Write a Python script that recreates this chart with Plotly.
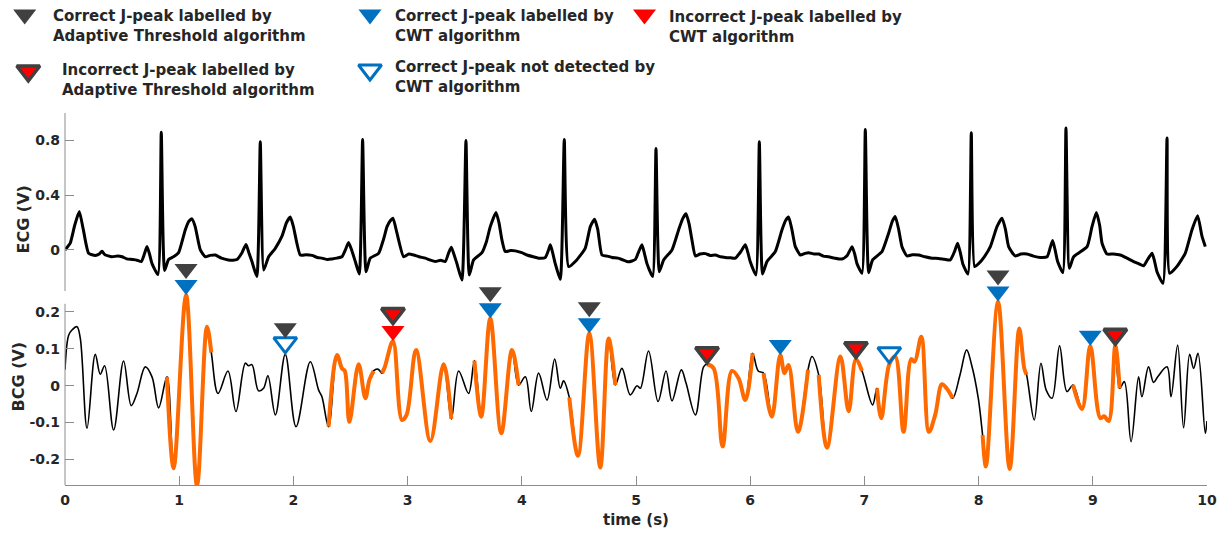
import numpy as np
import plotly.graph_objects as go

# ---------------- data ----------------
# ECG trace: time (s) and amplitude (V)
ecg_t = [
    0.000, 0.046, 0.085, 0.125, 0.160, 0.207, 0.265, 0.300, 0.324, 0.350, 0.410, 0.460, 0.500,
    0.540, 0.587, 0.630, 0.668, 0.695, 0.718, 0.740, 0.762, 0.814, 0.843, 0.872, 0.907, 0.950,
    0.995, 1.053, 1.085, 1.112, 1.140, 1.185, 1.229, 1.270, 1.316, 1.370, 1.430, 1.470, 1.506,
    1.550, 1.585, 1.610, 1.637, 1.680, 1.710, 1.740, 1.783, 1.840, 1.900, 1.940, 1.973, 2.000,
    2.060, 2.110, 2.163, 2.210, 2.250, 2.300, 2.338, 2.380, 2.425, 2.455, 2.483, 2.510, 2.542,
    2.577, 2.606, 2.636, 2.673, 2.746, 2.790, 2.820, 2.850, 2.872, 2.907, 2.965, 3.010, 3.053,
    3.100, 3.155, 3.200, 3.243, 3.290, 3.330, 3.360, 3.383, 3.405, 3.432, 3.476, 3.511, 3.540,
    3.578, 3.651, 3.690, 3.724, 3.774, 3.800, 3.826, 3.855, 3.900, 3.943, 4.000, 4.045, 4.100,
    4.147, 4.206, 4.230, 4.250, 4.270, 4.293, 4.337, 4.372, 4.410, 4.468, 4.555, 4.600, 4.637,
    4.665, 4.702, 4.750, 4.790, 4.840, 4.877, 4.935, 4.994, 5.025, 5.052, 5.075, 5.096, 5.146,
    5.175, 5.204, 5.242, 5.315, 5.373, 5.410, 5.438, 5.465, 5.490, 5.520, 5.560, 5.607, 5.650,
    5.695, 5.740, 5.782, 5.830, 5.870, 5.920, 5.957, 5.980, 6.000, 6.050, 6.080, 6.108, 6.147,
    6.220, 6.278, 6.310, 6.336, 6.365, 6.395, 6.439, 6.480, 6.511, 6.560, 6.600, 6.640, 6.687,
    6.740, 6.804, 6.850, 6.892, 6.915, 6.935, 6.979, 7.008, 7.037, 7.072, 7.154, 7.212, 7.245,
    7.270, 7.300, 7.329, 7.373, 7.420, 7.474, 7.530, 7.592, 7.650, 7.700, 7.752, 7.790, 7.816,
    7.840, 7.863, 7.907, 7.936, 7.965, 8.000, 8.050, 8.103, 8.161, 8.205, 8.235, 8.263, 8.320,
    8.370, 8.424, 8.480, 8.540, 8.600, 8.625, 8.648, 8.670, 8.692, 8.738, 8.765, 8.795, 8.832,
    8.950, 8.993, 9.031, 9.060, 9.081, 9.124, 9.180, 9.241, 9.300, 9.357, 9.400, 9.445, 9.480,
    9.519, 9.540, 9.562, 9.615, 9.650, 9.673, 9.737, 9.810, 9.868, 9.918, 9.956, 9.985,
]
ecg_v = [
    0.000, 0.050, 0.180, 0.280, 0.150, -0.025, -0.040, -0.030, -0.010, -0.035, -0.050, -0.045, -0.050,
    -0.065, -0.070, -0.075, -0.085, -0.030, 0.025, -0.030, -0.100, -0.180, 0.860, -0.150, -0.070, -0.050,
    -0.020, 0.146, 0.210, 0.227, 0.170, 0.000, -0.050, -0.040, -0.037, -0.060, -0.073, -0.075, -0.070,
    -0.020, 0.040, -0.020, -0.085, -0.195, 0.790, -0.147, -0.050, 0.010, 0.100, 0.200, 0.240, 0.170,
    -0.037, -0.035, -0.040, -0.055, -0.060, -0.070, -0.066, -0.060, -0.050, 0.000, 0.054, 0.000, -0.085,
    -0.176, 0.806, -0.160, -0.060, -0.025, 0.080, 0.170, 0.215, 0.232, 0.122, -0.050, -0.030, -0.037,
    -0.050, -0.060, -0.075, -0.085, -0.075, -0.085, -0.020, 0.020, -0.030, -0.100, -0.220, 0.800, -0.183,
    -0.073, -0.020, 0.060, 0.170, 0.274, 0.200, 0.073, -0.012, -0.005, -0.007, -0.020, -0.037, -0.050,
    -0.060, -0.055, -0.010, 0.037, -0.020, -0.100, -0.215, 0.806, -0.122, -0.085, 0.012, 0.170, 0.224,
    0.150, -0.037, -0.045, -0.055, -0.060, -0.070, -0.087, -0.070, -0.010, 0.037, -0.030, -0.100, -0.195,
    0.740, -0.159, -0.073, 0.000, 0.146, 0.230, 0.264, 0.190, 0.073, -0.044, -0.030, -0.027, -0.040,
    -0.037, -0.050, -0.055, -0.058, -0.060, -0.010, 0.037, -0.020, -0.085, -0.183, 0.790, -0.176, -0.085,
    -0.012, 0.146, 0.215, 0.240, 0.150, 0.024, -0.037, -0.025, -0.020, -0.030, -0.030, -0.045, -0.050,
    -0.060, -0.066, -0.040, 0.024, -0.030, -0.100, -0.170, 0.880, -0.166, -0.073, -0.012, 0.122, 0.210,
    0.244, 0.150, 0.024, -0.044, -0.035, -0.037, -0.050, -0.060, -0.062, -0.068, -0.073, -0.010, 0.049,
    -0.020, -0.104, -0.176, 0.855, -0.122, -0.100, -0.050, 0.024, 0.170, 0.232, 0.150, 0.024, -0.044,
    -0.030, -0.030, -0.045, -0.055, -0.050, 0.010, 0.068, 0.000, -0.085, -0.166, 0.890, -0.134, -0.050,
    0.024, 0.170, 0.274, 0.180, 0.049, -0.030, -0.030, -0.037, -0.060, -0.085, -0.100, -0.116, -0.070,
    -0.024, -0.080, -0.159, -0.244, 0.818, -0.171, -0.120, -0.024, 0.146, 0.250, 0.100, 0.024,
]

# BCG trace: time (s) and amplitude (V)
bcg_t = [
    0.000, 0.032, 0.061, 0.105, 0.134, 0.193, 0.265, 0.309, 0.347, 0.426, 0.513, 0.580, 0.630,
    0.703, 0.762, 0.820, 0.893, 0.951, 1.060, 1.156, 1.243, 1.281, 1.340, 1.427, 1.497, 1.579,
    1.608, 1.637, 1.695, 1.739, 1.777, 1.842, 1.929, 2.023, 2.148, 2.221, 2.250, 2.308, 2.382,
    2.425, 2.450, 2.490, 2.571, 2.630, 2.665, 2.702, 2.740, 2.776, 2.800, 2.872, 2.951, 2.990,
    3.074, 3.199, 3.315, 3.383, 3.447, 3.534, 3.585, 3.645, 3.724, 3.820, 3.914, 3.972, 4.031,
    4.083, 4.147, 4.221, 4.288, 4.337, 4.366, 4.416, 4.492, 4.591, 4.687, 4.760, 4.819, 4.877,
    4.950, 5.009, 5.038, 5.110, 5.193, 5.263, 5.315, 5.397, 5.438, 5.520, 5.592, 5.622, 5.680,
    5.758, 5.840, 5.898, 5.957, 6.021, 6.070, 6.117, 6.190, 6.263, 6.301, 6.336, 6.418, 6.506,
    6.541, 6.600, 6.673, 6.790, 6.862, 6.926, 6.979, 7.072, 7.110, 7.148, 7.218, 7.270, 7.343,
    7.410, 7.440, 7.498, 7.565, 7.620, 7.679, 7.720, 7.773, 7.837, 7.895, 7.939, 7.997, 8.035,
    8.064, 8.170, 8.272, 8.356, 8.400, 8.420, 8.487, 8.546, 8.592, 8.643, 8.709, 8.774, 8.827,
    8.906, 8.978, 9.066, 9.100, 9.139, 9.197, 9.235, 9.276, 9.335, 9.401, 9.430, 9.488, 9.532,
    9.570, 9.650, 9.685, 9.743, 9.795, 9.848, 9.883, 9.921, 9.985, 10.000,
]
bcg_v = [
    0.043, 0.137, 0.151, 0.160, 0.128, -0.115, 0.085, 0.031, 0.054, -0.120, 0.067, -0.054, -0.021,
    0.051, 0.024, -0.060, 0.024, -0.224, 0.246, -0.271, 0.160, 0.090, -0.021, 0.040, -0.070, 0.061,
    0.054, 0.057, -0.014, -0.007, 0.027, -0.079, 0.085, -0.111, 0.065, -0.012, -0.030, -0.111, 0.083,
    0.047, 0.040, -0.098, 0.058, -0.034, 0.015, 0.040, 0.045, 0.034, 0.050, 0.121, -0.093, -0.080,
    0.097, -0.150, 0.058, -0.090, 0.040, -0.021, 0.068, -0.084, 0.183, -0.129, 0.097, 0.002, 0.024,
    -0.070, 0.034, -0.039, 0.072, -0.007, 0.013, -0.032, -0.190, 0.142, -0.222, 0.128, 0.002, 0.047,
    -0.025, 0.000, -0.007, 0.094, -0.043, 0.040, -0.041, 0.043, 0.007, -0.079, 0.051, 0.058, 0.047,
    -0.165, 0.040, 0.020, -0.039, 0.088, 0.040, 0.034, -0.084, 0.083, 0.034, 0.056, -0.125, 0.043,
    0.079, 0.029, -0.168, 0.079, -0.069, 0.072, 0.040, -0.052, -0.007, -0.088, 0.058, 0.079, -0.125,
    0.072, 0.065, 0.133, -0.125, -0.079, 0.004, -0.007, -0.034, 0.029, 0.097, 0.056, -0.034, -0.134,
    -0.219, 0.228, -0.226, 0.155, 0.047, 0.030, -0.093, 0.061, -0.012, -0.034, 0.108, -0.016, 0.002,
    -0.063, 0.108, -0.088, -0.083, -0.096, 0.108, -0.007, 0.011, -0.152, 0.024, -0.030, 0.051, 0.009,
    0.025, 0.051, -0.030, 0.110, -0.114, 0.085, 0.047, 0.088, -0.129, -0.096,
]

# BCG windows highlighted in orange (start, end), seconds
orange_start = [0.893, 2.308, 2.776, 3.585, 4.416, 5.622, 6.117, 6.600, 7.110, 8.035, 8.827]
orange_end = [1.281, 2.702, 3.383, 3.972, 4.819, 6.021, 6.506, 6.979, 7.773, 8.420, 9.235]

# J-peak times (s) by detector and outcome
at_correct_t = [1.060, 1.929, 3.724, 4.591, 8.170]
at_incorrect_t = [2.872, 5.622, 6.926, 9.197]
cwt_correct_t = [1.060, 3.724, 4.591, 6.263, 8.170, 8.978]
cwt_incorrect_t = [2.872]
cwt_missed_t = [1.929, 7.218]

ecg_ticks = [0, 0.4, 0.8]
ecg_ticktext = ["0", "0.4", "0.8"]
bcg_ticks = [-0.2, -0.1, 0, 0.1, 0.2]
bcg_ticktext = ["-0.2", "-0.1", "0", "0.1", "0.2"]
time_ticks = list(range(11))

# ---------------- layout constants (pixels) ----------------
W, H = 1226, 533
X_LEFT, X_RIGHT = 65, 1207          # plot area left/right edges
ECG_TOP, ECG_BOTTOM = 113, 291      # ECG axes box
BCG_BOTTOM = 485.3                  # BCG x axis line
BCG_PX_PER_V = 368.9
ECG_RANGE = [-0.3, 1.0]
BCG_LOW = -0.27
BCG_TOP_PX = 238                    # extra head-room so the J-peak markers stay in range
BCG_AXIS_TOP = 0.222                # where the drawn BCG y axis line stops

TXT = "#262626"
AXC = "#8c8c8c"
GRAY = "#404040"
BLUE = "#0070C0"
RED = "#FF0000"
ORANGE = "#FF6A00"
FONT = "DejaVu Sans"

MSIZE = 20
R = MSIZE / 2


def fx(px):
    return px / W


def fy(py):
    return (H - py) / H


BCG_RANGE = [BCG_LOW, BCG_LOW + (BCG_BOTTOM - BCG_TOP_PX) / BCG_PX_PER_V]
X_DOMAIN = [fx(X_LEFT), fx(X_RIGHT)]
ECG_DOMAIN = [fy(ECG_BOTTOM), fy(ECG_TOP)]
BCG_DOMAIN = [fy(BCG_BOTTOM), fy(BCG_TOP_PX)]

bcg_t_arr = np.array(bcg_t)
bcg_v_arr = np.array(bcg_v)


def bcg_at(times):
    return np.interp(np.array(times), bcg_t_arr, bcg_v_arr)


# orange overlay: BCG samples inside highlighted windows, gaps elsewhere
in_win = np.zeros(len(bcg_t), dtype=bool)
for s, e in zip(orange_start, orange_end):
    in_win |= (bcg_t_arr >= s - 1e-9) & (bcg_t_arr <= e + 1e-9)
orange_v = [v if m else None for v, m in zip(bcg_v, in_win)]

cwt_all = set(cwt_correct_t) | set(cwt_incorrect_t) | set(cwt_missed_t)


def cwt_y(times, extra=0.0):
    return bcg_at(times) + (R + extra) / BCG_PX_PER_V


def at_y(times, extra=0.0):
    out = []
    for t, v in zip(times, bcg_at(times)):
        if t in cwt_all:
            out.append(v + (1.5 * R + R + 1 + extra) / BCG_PX_PER_V)
        else:
            out.append(v + (R + extra) / BCG_PX_PER_V)
    return out


fig = go.Figure()

# ECG
fig.add_trace(go.Scatter(x=ecg_t, y=ecg_v, mode="lines", xaxis="x", yaxis="y",
                         line=dict(color="black", width=3, shape="spline", smoothing=0.5),
                         showlegend=False))

# BCG
fig.add_trace(go.Scatter(x=bcg_t, y=bcg_v, mode="lines", xaxis="x2", yaxis="y2",
                         line=dict(color="black", width=1.6, shape="spline", smoothing=1.0),
                         showlegend=False))
fig.add_trace(go.Scatter(x=bcg_t, y=orange_v, mode="lines", xaxis="x2", yaxis="y2",
                         connectgaps=False,
                         line=dict(color=ORANGE, width=4, shape="spline", smoothing=1.0),
                         showlegend=False))


# J-peak markers
def marker_trace(times, ys, color, symbol, line_color=None, line_width=0):
    return go.Scatter(x=times, y=ys, mode="markers", xaxis="x2", yaxis="y2",
                      cliponaxis=False, showlegend=False,
                      marker=dict(symbol=symbol, size=MSIZE, color=color,
                                  line=dict(color=line_color or color, width=line_width)))


fig.add_trace(marker_trace(cwt_correct_t, cwt_y(cwt_correct_t), BLUE, "triangle-down"))
fig.add_trace(marker_trace(cwt_incorrect_t, cwt_y(cwt_incorrect_t), RED, "triangle-down"))
fig.add_trace(marker_trace(cwt_missed_t, cwt_y(cwt_missed_t, 1.5), BLUE, "triangle-down-open",
                           BLUE, 3))
fig.add_trace(marker_trace(at_correct_t, at_y(at_correct_t), GRAY, "triangle-down"))
fig.add_trace(marker_trace(at_incorrect_t, at_y(at_incorrect_t, 1.5), RED, "triangle-down",
                           GRAY, 3.5))

# legend glyphs and captions (pixel positions)
leg_items = [
    dict(x=24.7, y=14.5, color=GRAY, symbol="triangle-down", lc=GRAY, lw=0,
         tx=50.5, ty=26.5, text="Correct J-peak labelled by<br>Adaptive Threshold algorithm"),
    dict(x=28.3, y=71.0, color=RED, symbol="triangle-down", lc=GRAY, lw=3.5,
         tx=60.0, ty=80.0, text="Incorrect J-peak labelled by<br>Adaptive Threshold algorithm"),
    dict(x=370.0, y=14.5, color=BLUE, symbol="triangle-down", lc=BLUE, lw=0,
         tx=392.5, ty=26.5, text="Correct J-peak labelled by<br>CWT algorithm"),
    dict(x=370.0, y=70.0, color=BLUE, symbol="triangle-down-open", lc=BLUE, lw=3,
         tx=392.5, ty=76.5, text="Correct J-peak not detected by<br>CWT algorithm"),
    dict(x=644.5, y=14.5, color=RED, symbol="triangle-down", lc=RED, lw=0,
         tx=667.0, ty=27.0, text="Incorrect J-peak labelled by<br>CWT algorithm"),
]
for it in leg_items:
    fig.add_trace(go.Scatter(x=[it["x"]], y=[it["y"]], mode="markers", xaxis="x3", yaxis="y3",
                             cliponaxis=False, showlegend=False, hoverinfo="skip",
                             marker=dict(symbol=it["symbol"], size=MSIZE, color=it["color"],
                                         line=dict(color=it["lc"], width=it["lw"]))))

annotations = []
for it in leg_items:
    annotations.append(dict(x=fx(it["tx"]), y=fy(it["ty"]), xref="paper", yref="paper",
                            xanchor="left", yanchor="middle", align="left", showarrow=False,
                            text=it["text"],
                            font=dict(family=FONT, size=15, color=TXT, weight="bold")))

# axis titles
annotations += [
    dict(x=fx(22.5), y=fy(220), xref="paper", yref="paper", text="ECG (V)", textangle=-90,
         xanchor="center", yanchor="middle", showarrow=False,
         font=dict(family=FONT, size=16, color=TXT, weight="bold")),
    dict(x=fx(17.5), y=fy(377), xref="paper", yref="paper", text="BCG (V)", textangle=-90,
         xanchor="center", yanchor="middle", showarrow=False,
         font=dict(family=FONT, size=16, color=TXT, weight="bold")),
    dict(x=fx((X_LEFT + X_RIGHT) / 2), y=fy(520), xref="paper", yref="paper", text="time (s)",
         xanchor="center", yanchor="middle", showarrow=False,
         font=dict(family=FONT, size=15, color=TXT, weight="bold")),
]

tickfont = dict(family=FONT, size=14, color=TXT, weight="bold")

fig.update_layout(
    width=W, height=H,
    margin=dict(l=0, r=0, t=0, b=0, autoexpand=False),
    paper_bgcolor="white", plot_bgcolor="rgba(0,0,0,0)",
    showlegend=False,
    annotations=annotations,
    xaxis=dict(domain=X_DOMAIN, range=[0, 10], visible=False, anchor="y", automargin=False),
    yaxis=dict(domain=ECG_DOMAIN, range=ECG_RANGE, anchor="x", tickvals=ecg_ticks,
               ticktext=ecg_ticktext, ticks="inside", ticklen=9, tickcolor=AXC,
               showline=False, showgrid=False, zeroline=False, tickfont=tickfont,
               ticklabelstandoff=4, automargin=False),
    xaxis2=dict(domain=X_DOMAIN, range=[0, 10], anchor="y2", tickvals=time_ticks,
                ticks="inside", ticklen=9, tickcolor=AXC, showline=True, linecolor=AXC,
                linewidth=1, showgrid=False, zeroline=False, tickfont=tickfont,
                ticklabelstandoff=2, automargin=False),
    yaxis2=dict(domain=BCG_DOMAIN, range=BCG_RANGE, anchor="x2", tickvals=bcg_ticks,
                ticktext=bcg_ticktext, ticks="inside", ticklen=9, tickcolor=AXC,
                showline=False, showgrid=False, zeroline=False, tickfont=tickfont,
                ticklabelstandoff=4, automargin=False),
    xaxis3=dict(domain=[0, 1], range=[0, W], visible=False, anchor="y3", automargin=False),
    yaxis3=dict(domain=[0, 1], range=[H, 0], visible=False, anchor="x3", automargin=False),
    shapes=[
        dict(type="line", xref="x domain", yref="y domain", x0=0, x1=0, y0=0, y1=1,
             line=dict(color=AXC, width=1)),
        dict(type="line", xref="x2 domain", yref="y2", x0=0, x1=0,
             y0=BCG_RANGE[0], y1=BCG_AXIS_TOP, line=dict(color=AXC, width=1)),
    ],
)

fig.write_html("out.html")
